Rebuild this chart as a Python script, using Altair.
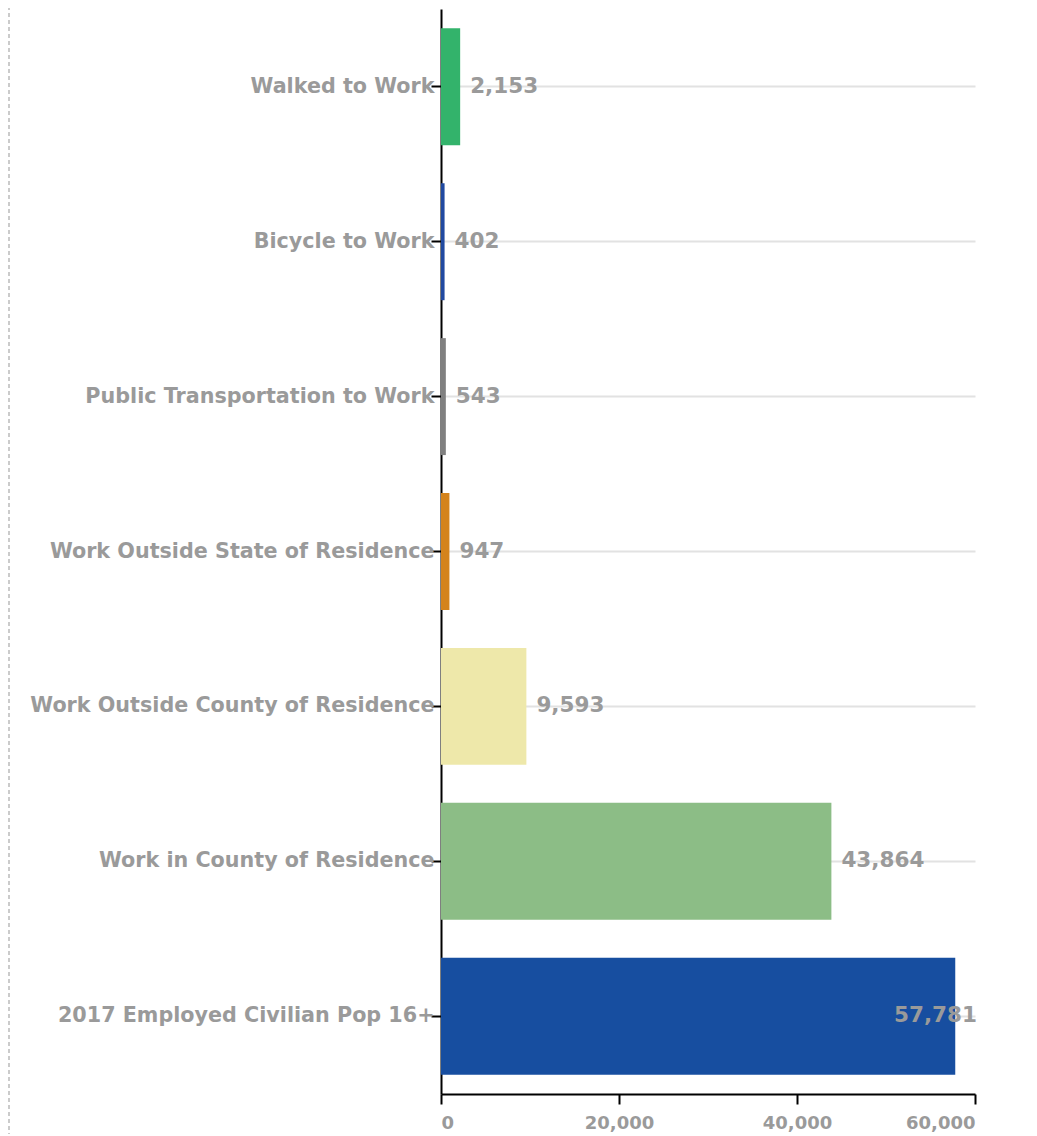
import altair as alt
import pandas as pd

categories = [
    "Walked to Work",
    "Bicycle to Work",
    "Public Transportation to Work",
    "Work Outside State of Residence",
    "Work Outside County of Residence",
    "Work in County of Residence",
    "2017 Employed Civilian Pop 16+",
]
values = [2153, 402, 543, 947, 9593, 43864, 57781]
colors = ["#33b36b", "#2049a0", "#808080", "#d4831c", "#eee8aa", "#8cbd86", "#174ea0"]
x_ticks = [0, 20000, 40000, 60000]

df = pd.DataFrame({"category": categories, "value": values})
df["label"] = df["value"].map(lambda v: f"{v:,}")
df["inside"] = df["value"] > 52000

FONT = "DejaVu Sans"
GRAY = "#9a9a9a"

y_enc = alt.Y(
    "category:N",
    sort=categories,
    title=None,
    scale=alt.Scale(paddingInner=0.245, paddingOuter=0.125),
    axis=alt.Axis(
        labelFont=FONT, labelFontSize=20.7, labelFontWeight="bold", labelColor=GRAY,
        labelPadding=-3, labelLimit=500,
        domainColor="#000000", domainWidth=2, tickColor="#000000", tickSize=10, tickWidth=2,
        grid=True, gridColor="#e2e2e2", gridWidth=2,
    ),
)
x_scale = alt.Scale(domain=[0, 60000], nice=False)
x_enc = alt.X(
    "value:Q",
    scale=x_scale,
    title=None,
    axis=alt.Axis(
        values=x_ticks, format=",d",
        labelFont=FONT, labelFontSize=18, labelFontWeight="bold", labelColor=GRAY,
        labelPadding=10,
        domainColor="#000000", domainWidth=2, tickColor="#000000", tickSize=10, tickWidth=2,
        grid=False,
    ),
)

base = alt.Chart(df)
bars = base.mark_bar().encode(
    y=y_enc,
    x=x_enc,
    color=alt.Color("category:N", scale=alt.Scale(domain=categories, range=colors), legend=None),
)
labels_out = base.transform_filter("!datum.inside").mark_text(
    align="left", baseline="middle", dx=10, font=FONT, fontSize=21.5, fontWeight="bold", color=GRAY
).encode(y=alt.Y("category:N", sort=categories), x=alt.X("value:Q", scale=x_scale), text="label:N")
labels_in = base.transform_filter("datum.inside").mark_text(
    align="right", baseline="middle", dx=2, font=FONT, fontSize=21.5, fontWeight="bold", color=GRAY
).encode(y=alt.Y("category:N", sort=categories), x=alt.datum(60000, scale=x_scale), text="label:N")

border = alt.Chart(pd.DataFrame({"a": [0]})).mark_rule(
    color="#bbbbbb", strokeDash=[4, 3], strokeWidth=1.5
).encode(x=alt.value(-432), y=alt.value(-10), y2=alt.value(1130))

chart = alt.layer(bars, labels_out, labels_in, border).properties(
    width=534,
    height=1085,
    autosize=alt.AutoSizeParams(type="none"),
    padding={"left": 433, "top": 1, "right": 54, "bottom": 40},
).configure_view(stroke=None)

chart.save("out.html", embed_options={"renderer": "svg", "actions": False})
